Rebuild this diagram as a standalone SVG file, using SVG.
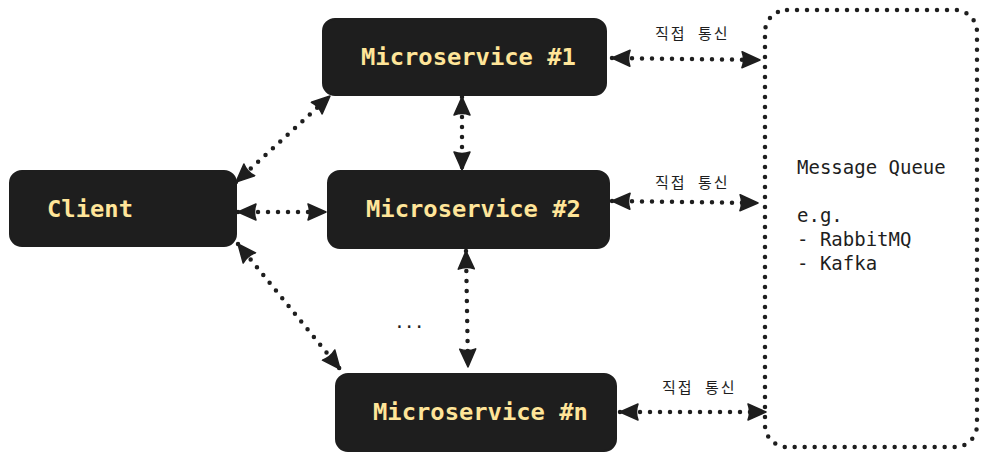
<svg xmlns="http://www.w3.org/2000/svg" width="986" height="459" viewBox="0 0 986 459">
<defs>
<style>
.box{fill:#1e1e1e;stroke:#1e1e1e;stroke-width:2}
.lbl{font-family:"DejaVu Sans Mono","Liberation Mono",monospace;font-weight:bold;font-size:23.8px;fill:#ffe599}
.conn{fill:none;stroke:#1e1e1e;stroke-width:4.5;stroke-linecap:round;stroke-dasharray:0 10}
.note{font-family:"Noto Sans CJK KR","Noto Sans",sans-serif;font-size:15px;letter-spacing:2px;word-spacing:6px;fill:#1e1e1e}
.mq{font-family:"DejaVu Sans Mono","Liberation Mono",monospace;font-size:19px;fill:#1e1e1e}
</style>
<marker id="ah" viewBox="0 0 20 18" refX="19" refY="9" markerWidth="20" markerHeight="18" markerUnits="userSpaceOnUse" orient="auto-start-reverse">
<path d="M1,1 L19,9 L1,17 Q4,9 1,1 z" fill="#1e1e1e" stroke="#1e1e1e" stroke-width="1.5" stroke-linejoin="round"/>
</marker>
</defs>
<rect width="986" height="459" fill="#ffffff"/>
<g id="client">
<rect class="box" x="10" y="171" width="226" height="75" rx="12"/>
<text class="lbl" x="47" y="217">Client</text>
</g>
<g id="ms1">
<rect class="box" x="323" y="19" width="283" height="76" rx="12"/>
<text class="lbl" x="361" y="65">Microservice #1</text>
</g>
<g id="ms2">
<rect class="box" x="328" y="171" width="281" height="77" rx="12"/>
<text class="lbl" x="366" y="217">Microservice #2</text>
</g>
<g id="msn">
<rect class="box" x="336" y="374" width="280" height="77" rx="12"/>
<text class="lbl" x="373" y="420">Microservice #n</text>
</g>
<g id="mq">
<rect x="765" y="10" width="212" height="437" rx="22" fill="none" stroke="#1e1e1e" stroke-width="4.5" stroke-linecap="round" stroke-dasharray="0 10"/>
<text class="mq" x="797" y="174">Message Queue</text>
<text class="mq" x="797" y="222">e.g.</text>
<text class="mq" x="797" y="246">- RabbitMQ</text>
<text class="mq" x="797" y="270">- Kafka</text>
</g>
<g id="connectors">
<path class="conn" d="M612,58 L760,60" marker-start="url(#ah)" marker-end="url(#ah)"/>
<path class="conn" d="M612,201 L758,203" marker-start="url(#ah)" marker-end="url(#ah)"/>
<path class="conn" d="M620,412 L766,412" marker-start="url(#ah)" marker-end="url(#ah)"/>
<path class="conn" d="M238,212 L326,212" marker-start="url(#ah)" marker-end="url(#ah)"/>
<path class="conn" d="M236,182 L330,96" marker-start="url(#ah)" marker-end="url(#ah)"/>
<path class="conn" d="M238,244 L340,369" marker-start="url(#ah)" marker-end="url(#ah)"/>
<path class="conn" d="M462,97 L462,170" marker-start="url(#ah)" marker-end="url(#ah)"/>
<path class="conn" d="M466,251 L468,367" marker-start="url(#ah)" marker-end="url(#ah)"/>
<text class="note" x="655" y="39">직접 통신</text>
<text class="note" x="655" y="188">직접 통신</text>
<text class="note" x="662" y="393">직접 통신</text>
<text x="394" y="328" style="font-family:'DejaVu Sans Mono',monospace;font-size:18px;letter-spacing:-1px;fill:#1e1e1e">...</text>
</g>
</svg>
